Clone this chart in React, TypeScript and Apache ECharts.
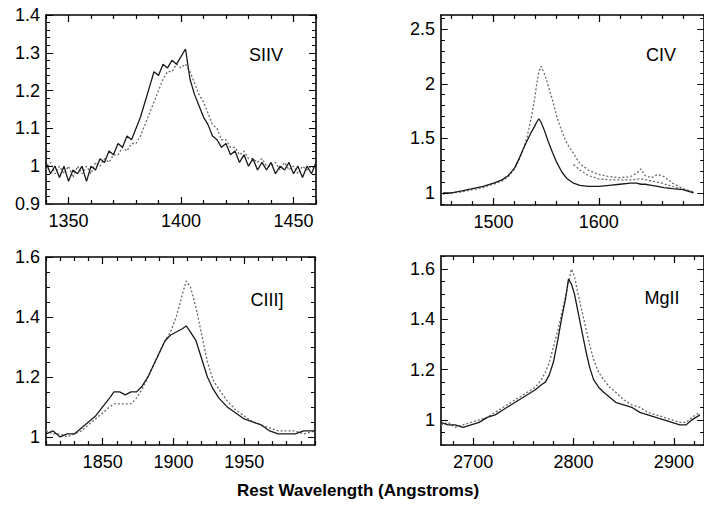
import React, { useEffect, useRef } from "react";
import * as echarts from "echarts";

// ---------- DATA ----------
const siivWave = [1340,1342,1344,1346,1348,1350,1352,1354,1356,1358,1360,1362,1364,1366,1368,1370,1372,1374,1376,1378,1380,1382,1384,1386,1388,1390,1392,1394,1396,1398,1400,1402,1404,1406,1408,1410,1412,1414,1416,1418,1420,1422,1424,1426,1428,1430,1432,1434,1436,1438,1440,1442,1444,1446,1448,1450,1452,1454,1456,1458,1460];
const siivDark = [1.01,0.98,1.00,0.97,1.00,0.96,0.99,0.98,1.00,0.96,1.00,0.99,1.02,1.01,1.04,1.03,1.06,1.05,1.08,1.07,1.10,1.13,1.17,1.21,1.25,1.24,1.27,1.26,1.28,1.27,1.29,1.31,1.23,1.19,1.16,1.13,1.11,1.08,1.07,1.05,1.06,1.03,1.04,1.01,1.03,1.00,1.02,0.99,1.01,0.99,1.01,0.98,1.00,0.99,1.01,0.98,1.00,0.97,1.00,0.98,1.01];
const siivGray = [0.99,1.01,0.98,1.00,0.98,1.00,0.97,1.00,0.98,1.00,0.98,1.01,1.00,1.02,1.01,1.03,1.03,1.05,1.04,1.06,1.06,1.08,1.11,1.14,1.17,1.20,1.23,1.25,1.25,1.27,1.26,1.27,1.25,1.22,1.19,1.17,1.14,1.11,1.10,1.07,1.07,1.05,1.05,1.03,1.04,1.02,1.02,1.01,1.02,1.00,1.00,1.01,0.99,1.01,0.99,1.00,0.98,1.00,0.99,1.00,0.99];

const civWave = [1452,1460,1470,1480,1490,1500,1508,1514,1520,1524,1528,1532,1536,1539,1541,1543,1545,1548,1552,1556,1560,1565,1570,1576,1582,1590,1600,1610,1620,1630,1636,1640,1644,1650,1656,1662,1670,1680,1690];
const civDark = [1.00,1.00,1.02,1.04,1.06,1.09,1.12,1.16,1.23,1.31,1.40,1.48,1.56,1.61,1.65,1.68,1.65,1.58,1.47,1.37,1.28,1.19,1.13,1.09,1.07,1.06,1.06,1.07,1.08,1.09,1.09,1.08,1.08,1.07,1.06,1.05,1.04,1.03,1.00];
const civGray = [0.99,1.00,1.01,1.03,1.05,1.08,1.11,1.15,1.22,1.30,1.39,1.52,1.70,1.86,2.00,2.11,2.16,2.10,1.98,1.85,1.70,1.56,1.45,1.36,1.27,1.21,1.17,1.15,1.14,1.15,1.18,1.22,1.16,1.14,1.17,1.15,1.09,1.04,1.01];
const civMidWave = [1576,1582,1590,1600,1610,1620,1630,1640,1650,1660,1670,1680,1690];
const civMid = [1.26,1.21,1.16,1.13,1.12,1.12,1.12,1.13,1.11,1.09,1.06,1.03,1.01];

const ciiiWave = [1810,1815,1820,1825,1830,1835,1840,1845,1850,1855,1858,1862,1866,1870,1874,1878,1882,1886,1890,1894,1898,1902,1906,1909,1912,1916,1920,1924,1928,1932,1938,1944,1950,1956,1962,1968,1974,1980,1986,1992,2000];
const ciiiDark = [1.01,1.02,1.00,1.01,1.01,1.03,1.05,1.07,1.10,1.13,1.15,1.15,1.14,1.15,1.15,1.17,1.20,1.24,1.28,1.32,1.34,1.35,1.36,1.37,1.35,1.32,1.26,1.20,1.16,1.13,1.10,1.08,1.06,1.05,1.04,1.02,1.01,1.01,1.01,1.02,1.02];
const ciiiGray = [1.02,1.01,1.01,1.00,1.01,1.02,1.04,1.06,1.08,1.10,1.11,1.11,1.11,1.11,1.13,1.16,1.20,1.24,1.28,1.32,1.35,1.40,1.47,1.52,1.50,1.43,1.34,1.25,1.19,1.16,1.12,1.09,1.07,1.05,1.04,1.03,1.02,1.02,1.02,1.01,1.02];

const mgiiWave = [2668,2675,2682,2690,2698,2706,2714,2722,2730,2738,2746,2754,2762,2768,2772,2776,2780,2784,2788,2792,2795,2798,2801,2804,2808,2812,2816,2820,2825,2830,2836,2842,2850,2858,2866,2874,2882,2890,2898,2906,2912,2918,2926];
const mgiiDark = [0.99,0.98,0.98,0.97,0.98,0.99,1.01,1.02,1.04,1.06,1.08,1.10,1.12,1.14,1.15,1.18,1.23,1.31,1.40,1.48,1.56,1.54,1.50,1.44,1.36,1.28,1.21,1.16,1.13,1.11,1.09,1.07,1.06,1.05,1.03,1.02,1.01,1.00,0.99,0.98,0.98,1.00,1.02];
const mgiiGray = [0.98,0.99,0.97,0.98,0.99,1.00,1.01,1.03,1.05,1.07,1.09,1.11,1.13,1.16,1.19,1.23,1.29,1.35,1.42,1.49,1.55,1.60,1.57,1.51,1.44,1.37,1.30,1.24,1.19,1.16,1.13,1.11,1.08,1.06,1.05,1.03,1.02,1.01,1.00,0.99,0.99,1.01,1.03];

const siivXLabels = [1350, 1400, 1450];
const siivYLabels = [0.9, 1, 1.1, 1.2, 1.3, 1.4];
const civXLabels = [1500, 1600];
const civYLabels = [1, 1.5, 2, 2.5];
const ciiiXLabels = [1850, 1900, 1950];
const ciiiYLabels = [1, 1.2, 1.4, 1.6];
const mgiiXLabels = [2700, 2800, 2900];
const mgiiYLabels = [1, 1.2, 1.4, 1.6];

const lineNames = ["SIIV", "CIV", "CIII]", "MgII"];
const xTitle = "Rest Wavelength (Angstroms)";

// ---------- helpers ----------
const zip = (xs: number[], ys: number[]) => xs.map((x, i) => [x, ys[i]]);
function stepValues(min: number, max: number, step: number): number[] {
  const out: number[] = [];
  const first = Math.ceil(min / step - 1e-6);
  const last = Math.floor(max / step + 1e-6);
  for (let k = first; k <= last; k += 1) out.push(Math.round(k * step * 10000) / 10000);
  return out;
}

const INK = "#000000";
const FONT = '"Liberation Sans", Arial, Helvetica, sans-serif';

type Panel = {
  grid: { left: number; top: number; width: number; height: number };
  x: [number, number]; xLabels: number[]; xMinor: number;
  y: [number, number]; yLabels: number[]; yMinor: number;
  label: string; labelPos: [number, number];
  series: { data: number[][]; kind: "dark" | "gray" }[];
};

const panels: Panel[] = [
  {
    grid: { left: 46, top: 15, width: 270, height: 189 },
    x: [1340, 1460], xLabels: siivXLabels, xMinor: 10,
    y: [0.9, 1.4], yLabels: siivYLabels, yMinor: 0.02,
    label: lineNames[0], labelPos: [266, 55],
    series: [
      { data: zip(siivWave, siivGray), kind: "gray" },
      { data: zip(siivWave, siivDark), kind: "dark" },
    ],
  },
  {
    grid: { left: 441, top: 15, width: 274, height: 190 },
    x: [1450, 1700], xLabels: civXLabels, xMinor: 20,
    y: [0.89, 2.63], yLabels: civYLabels, yMinor: 0.1,
    label: lineNames[1], labelPos: [661, 55],
    series: [
      { data: zip(civWave, civGray), kind: "gray" },
      { data: zip(civMidWave, civMid), kind: "gray" },
      { data: zip(civWave, civDark), kind: "dark" },
    ],
  },
  {
    grid: { left: 46, top: 257, width: 269, height: 188 },
    x: [1810, 2000], xLabels: ciiiXLabels, xMinor: 10,
    y: [0.973, 1.6], yLabels: ciiiYLabels, yMinor: 0.05,
    label: lineNames[2], labelPos: [267, 300],
    series: [
      { data: zip(ciiiWave, ciiiGray), kind: "gray" },
      { data: zip(ciiiWave, ciiiDark), kind: "dark" },
    ],
  },
  {
    grid: { left: 441, top: 256, width: 270, height: 189 },
    x: [2668, 2930], xLabels: mgiiXLabels, xMinor: 20,
    y: [0.9, 1.652], yLabels: mgiiYLabels, yMinor: 0.05,
    label: lineNames[3], labelPos: [662, 298],
    series: [
      { data: zip(mgiiWave, mgiiGray), kind: "gray" },
      { data: zip(mgiiWave, mgiiDark), kind: "dark" },
    ],
  },
];

const isMajor = (list: number[], v: number) => list.some((l) => Math.abs(l - v) < 1e-6);

function buildOption() {
  const grid: any[] = [];
  const xAxis: any[] = [];
  const yAxis: any[] = [];
  const series: any[] = [];
  const graphic: any[] = [];

  panels.forEach((p, gi) => {
    grid.push({ ...p.grid, containLabel: false });
    const mk = (dim: "x" | "y", position: string, labels: boolean) => {
      const [min, max] = dim === "x" ? p.x : p.y;
      const lbl = dim === "x" ? p.xLabels : p.yLabels;
      return {
        type: "value",
        gridIndex: gi,
        position,
        min,
        max,
        splitLine: { show: false },
        axisLine: { show: true, onZero: false, lineStyle: { color: INK, width: 1.6 } },
        axisTick: { show: false },
        axisLabel: {
          show: labels,
          customValues: lbl,
          formatter: (v: number) => String(v),
          fontSize: 18,
          fontFamily: FONT,
          color: INK,
          margin: dim === "x" ? 8 : 6,
        },
      };
    };
    xAxis.push(mk("x", "bottom", true), mk("x", "top", false));
    yAxis.push(mk("y", "left", true), mk("y", "right", false));

    // inward tick marks on all four frame edges
    const dyPerPx = (p.y[1] - p.y[0]) / p.grid.height;
    const dxPerPx = (p.x[1] - p.x[0]) / p.grid.width;
    const segs: number[][][] = [];
    stepValues(p.x[0], p.x[1], p.xMinor).forEach((v) => {
      const L = (isMajor(p.xLabels, v) ? 7 : 4) * dyPerPx;
      segs.push([[v, p.y[0]], [v, p.y[0] + L]]);
      segs.push([[v, p.y[1]], [v, p.y[1] - L]]);
    });
    stepValues(p.y[0], p.y[1], p.yMinor).forEach((v) => {
      const L = (isMajor(p.yLabels, v) ? 7 : 4) * dxPerPx;
      segs.push([[p.x[0], v], [p.x[0] + L, v]]);
      segs.push([[p.x[1], v], [p.x[1] - L, v]]);
    });
    series.push({
      type: "lines",
      coordinateSystem: "cartesian2d",
      xAxisIndex: gi * 2,
      yAxisIndex: gi * 2,
      silent: true,
      z: 5,
      lineStyle: { color: INK, width: 1.2, opacity: 1, curveness: 0 },
      data: segs.map((s) => ({ coords: s })),
    });

    p.series.forEach((s) => {
      series.push({
        type: "line",
        xAxisIndex: gi * 2,
        yAxisIndex: gi * 2,
        data: s.data,
        showSymbol: false,
        symbol: "none",
        clip: true,
        lineStyle:
          s.kind === "dark"
            ? { color: "#1a1a1a", width: 1.3, type: "solid" }
            : { color: "#6a6a6a", width: 1.3, type: [2, 2] },
      });
    });

    graphic.push({
      type: "text",
      x: p.labelPos[0],
      y: p.labelPos[1],
      silent: true,
      style: { text: p.label, font: `18px ${FONT}`, fill: INK, align: "center", verticalAlign: "middle" },
    });
  });

  graphic.push({
    type: "text",
    x: 358,
    y: 490,
    silent: true,
    style: { text: xTitle, font: `bold 17px ${FONT}`, fill: INK, align: "center", verticalAlign: "middle" },
  });

  return { animation: false, backgroundColor: "#ffffff", grid, xAxis, yAxis, series, graphic };
}

export default function App() {
  const ref = useRef<HTMLDivElement>(null);
  useEffect(() => {
    if (!ref.current) return;
    const chart = echarts.init(ref.current, null, { renderer: "svg" });
    chart.setOption(buildOption() as any);
    return () => chart.dispose();
  }, []);
  return (
    <div
      ref={ref}
      style={{ position: "fixed", left: 0, top: 0, width: 704, height: 507, background: "#fff" }}
    />
  );
}
